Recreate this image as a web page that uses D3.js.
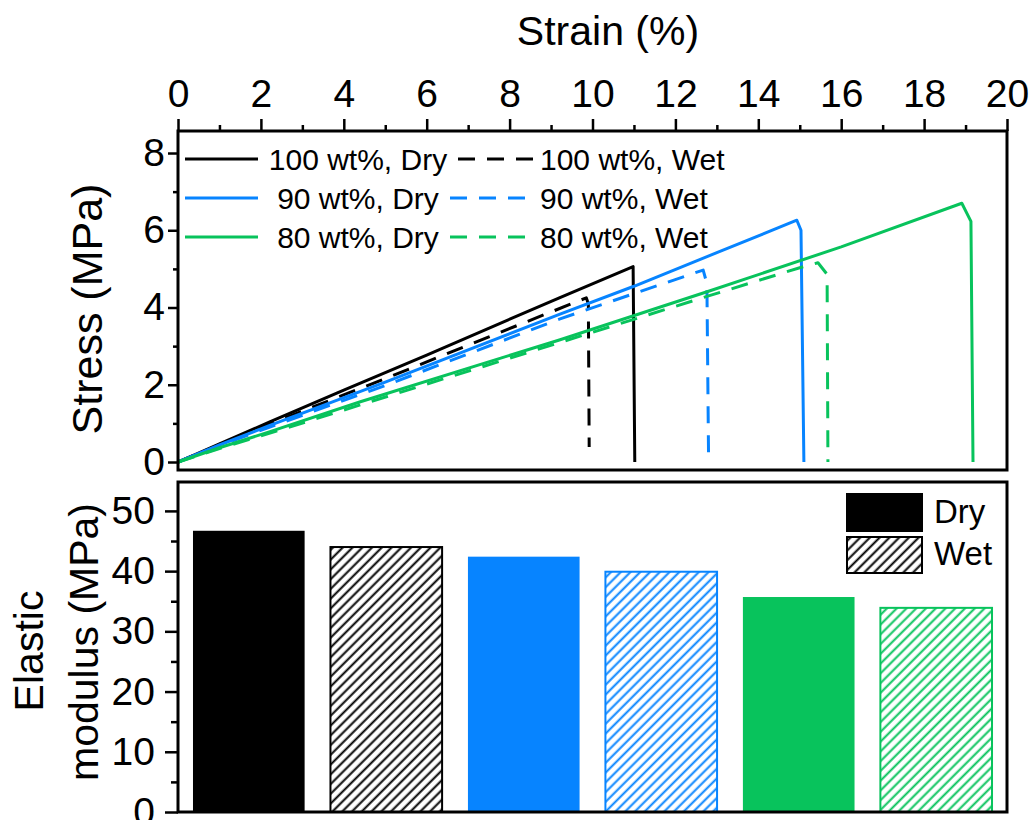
<!DOCTYPE html>
<html>
<head>
<meta charset="utf-8">
<script src="https://cdn.jsdelivr.net/npm/d3@7"></script>
<style>
  body { margin: 0; background: #fff; }
  svg { display: block; }
  text { font-family: "Liberation Sans", Arial, sans-serif; fill: #000; }
</style>
</head>
<body>
<svg id="chart" width="1032" height="820"></svg>
<script>

// tick values
var strainTicks = [0, 2, 4, 6, 8, 10, 12, 14, 16, 18, 20];
var stressTicks = [0, 2, 4, 6, 8];
var modulusTicks = [0, 10, 20, 30, 40, 50];

// stress-strain curves, [strain %, stress MPa]
var dry100 = [[0, 0], [1, 0.47], [2.2, 1.03], [4, 1.86], [6, 2.77], [9.2, 4.25], [10.98, 5.06], [11.02, 0]];
var wet100 = [[0, 0], [1, 0.45], [2.2, 0.98], [5, 2.16], [7.5, 3.24], [9.85, 4.25], [9.9, 4.1], [9.92, 0.39]];
var dry90 = [[0, 0], [1, 0.44], [2.2, 0.94], [5, 2.07], [9.2, 3.82], [11, 4.55], [13, 5.42], [14.93, 6.26], [15.03, 6.0], [15.1, 0]];
var wet90 = [[0, 0], [1, 0.42], [2.2, 0.9], [5, 1.98], [9.2, 3.7], [12.67, 4.97], [12.76, 4.62], [12.8, 0.13]];
var dry80 = [[0, 0], [1, 0.37], [2.2, 0.78], [4.4, 1.56], [9.2, 3.16], [12.8, 4.42], [16, 5.57], [18.91, 6.7], [19.13, 6.23], [19.18, 0]];
var wet80 = [[0, 0], [1, 0.35], [2.2, 0.74], [4.4, 1.48], [9.2, 3.09], [12.8, 4.3], [15, 5.03], [15.44, 5.16], [15.66, 4.86], [15.68, 0]];

var curveNames = ["100 wt%, Dry", "100 wt%, Wet", "90 wt%, Dry", "90 wt%, Wet", "80 wt%, Dry", "80 wt%, Wet"];
var curveData = [dry100, wet100, dry90, wet90, dry80, wet80];

// elastic modulus bars
var barNames = curveNames;
var modulusValues = [46.7, 44.0, 42.4, 39.9, 35.7, 33.9];

var black = "#000000",
    blue = "#0784ff",
    green = "#08c35c";

function colorOf(i) { return [black, blue, green][Math.floor(i / 2)]; }
function isWet(i) { return i % 2 == 1; }


var svg = d3.select("#chart");

var left = 178,
    right = 1007,
    topA = 131,
    bottomA = 470,
    topB = 482,
    bottomB = 812;


// hatch patterns
var defs = svg.append("defs");
[black, blue, green].forEach(function(c, k) {
  var p = defs.append("pattern")
      .attr("id", "hatch" + k)
      .attr("patternUnits", "userSpaceOnUse")
      .attr("width", 6.9)
      .attr("height", 10)
      .attr("patternTransform", "rotate(45)");
  p.append("line")
      .attr("x1", 1.6).attr("y1", 0)
      .attr("x2", 1.6).attr("y2", 10)
      .attr("stroke", c)
      .attr("stroke-width", 2);
});


// ---------- top panel: stress-strain ----------

var x = d3.scaleLinear().domain([0, 20]).range([left, right]);
var y = d3.scaleLinear().domain([-0.207, 8.57]).range([bottomA, topA]);

var line = d3.line()
    .x(function(d) { return x(d[0]); })
    .y(function(d) { return y(d[1]); });

curveData.forEach(function(data, i) {
  svg.append("path")
      .datum(data)
      .attr("d", line)
      .attr("fill", "none")
      .attr("stroke", colorOf(i))
      .attr("stroke-width", 3)
      .attr("stroke-linejoin", "round")
      .attr("stroke-dasharray", isWet(i) ? "17,12" : null);
});

// top axis, major + minor
svg.append("g")
    .attr("class", "axis")
    .attr("transform", "translate(0," + topA + ")")
    .call(d3.axisTop(x).tickValues(d3.range(1, 20, 2)).tickSize(6).tickFormat(""));
svg.append("g")
    .attr("class", "axis labelled top")
    .attr("transform", "translate(0," + topA + ")")
    .call(d3.axisTop(x).tickValues(strainTicks).tickSize(12).tickPadding(12));

// left axis
svg.append("g")
    .attr("class", "axis")
    .attr("transform", "translate(" + left + ",0)")
    .call(d3.axisLeft(y).tickValues(d3.range(1, 9, 2)).tickSize(5).tickFormat(""));
svg.append("g")
    .attr("class", "axis labelled")
    .attr("transform", "translate(" + left + ",0)")
    .call(d3.axisLeft(y).tickValues(stressTicks).tickSize(10).tickPadding(3));

svg.append("rect")
    .attr("x", left).attr("y", topA)
    .attr("width", right - left).attr("height", bottomA - topA)
    .attr("fill", "none").attr("stroke", "#000").attr("stroke-width", 3);

svg.append("text")
    .attr("x", 608).attr("y", 45)
    .attr("text-anchor", "middle")
    .style("font-size", "41px")
    .text("Strain (%)");

svg.append("text")
    .attr("transform", "translate(102,309) rotate(-90)")
    .attr("text-anchor", "middle")
    .style("font-size", "43px")
    .text("Stress (MPa)");

// legend of curves
var rowY = [159, 198, 237];
for (var r = 0; r < 3; r++) {
  var dryI = r * 2, wetI = r * 2 + 1;
  svg.append("line")
      .attr("x1", 185).attr("x2", 258).attr("y1", rowY[r]).attr("y2", rowY[r])
      .attr("stroke", colorOf(dryI)).attr("stroke-width", 3);
  svg.append("text")
      .attr("x", 358).attr("y", rowY[r]).attr("dy", "0.36em")
      .attr("text-anchor", "middle")
      .style("font-size", "30px")
      .text(curveNames[dryI]);
  var lx = r == 0 ? 458 : 450;
  svg.append("line")
      .attr("x1", lx).attr("x2", lx + 75).attr("y1", rowY[r]).attr("y2", rowY[r])
      .attr("stroke", colorOf(wetI)).attr("stroke-width", 3)
      .attr("stroke-dasharray", "17,12");
  svg.append("text")
      .attr("x", 540).attr("y", rowY[r]).attr("dy", "0.36em")
      .style("font-size", "30px")
      .text(curveNames[wetI]);
}


// ---------- bottom panel: elastic modulus ----------

var xb = d3.scaleBand().domain(barNames).range([left, right])
    .paddingInner(0.188).paddingOuter(0.109);
var yb = d3.scaleLinear().domain([0, 54.8]).range([bottomB, topB]);

svg.selectAll("rect.bar")
  .data(modulusValues)
  .enter().append("rect")
    .attr("class", "bar")
    .attr("x", function(d, i) { return xb(barNames[i]); })
    .attr("y", function(d) { return yb(d); })
    .attr("width", xb.bandwidth())
    .attr("height", function(d) { return yb(0) - yb(d); })
    .attr("fill", function(d, i) { return isWet(i) ? "url(#hatch" + Math.floor(i / 2) + ")" : colorOf(i); })
    .attr("stroke", function(d, i) { return isWet(i) ? colorOf(i) : "none"; })
    .attr("stroke-width", 2);

svg.append("g")
    .attr("class", "axis")
    .attr("transform", "translate(" + left + ",0)")
    .call(d3.axisLeft(yb).tickValues(d3.range(5, 55, 10)).tickSize(7).tickFormat(""));
svg.append("g")
    .attr("class", "axis labelled")
    .attr("transform", "translate(" + left + ",0)")
    .call(d3.axisLeft(yb).tickValues(modulusTicks).tickSize(13).tickPadding(10));

svg.append("rect")
    .attr("x", left).attr("y", topB)
    .attr("width", right - left).attr("height", bottomB - topB)
    .attr("fill", "none").attr("stroke", "#000").attr("stroke-width", 3);

svg.append("text")
    .attr("transform", "translate(43,651) rotate(-90)")
    .attr("text-anchor", "middle")
    .style("font-size", "41px")
    .text("Elastic");
svg.append("text")
    .attr("transform", "translate(98,642) rotate(-90)")
    .attr("text-anchor", "middle")
    .style("font-size", "41px")
    .text("modulus (MPa)");

// legend of bars
svg.append("rect")
    .attr("x", 846).attr("y", 493).attr("width", 77).attr("height", 39)
    .attr("fill", black);
svg.append("rect")
    .attr("x", 847).attr("y", 537).attr("width", 75).attr("height", 36)
    .attr("fill", "url(#hatch0)").attr("stroke", black).attr("stroke-width", 2);
svg.append("text").attr("x", 934).attr("y", 523).style("font-size", "33px").text("Dry");
svg.append("text").attr("x", 934).attr("y", 565).style("font-size", "33px").text("Wet");


// axis styling
svg.selectAll(".axis path.domain").remove();
svg.selectAll(".axis line").attr("stroke", "#000").attr("stroke-width", 2.5);
svg.selectAll(".axis text")
    .style("font-family", "'Liberation Sans', Arial, sans-serif")
    .style("font-size", "39px")
    .attr("fill", "#000");
svg.selectAll(".axis.top text").attr("dy", "0em");

</script>
</body>
</html>
